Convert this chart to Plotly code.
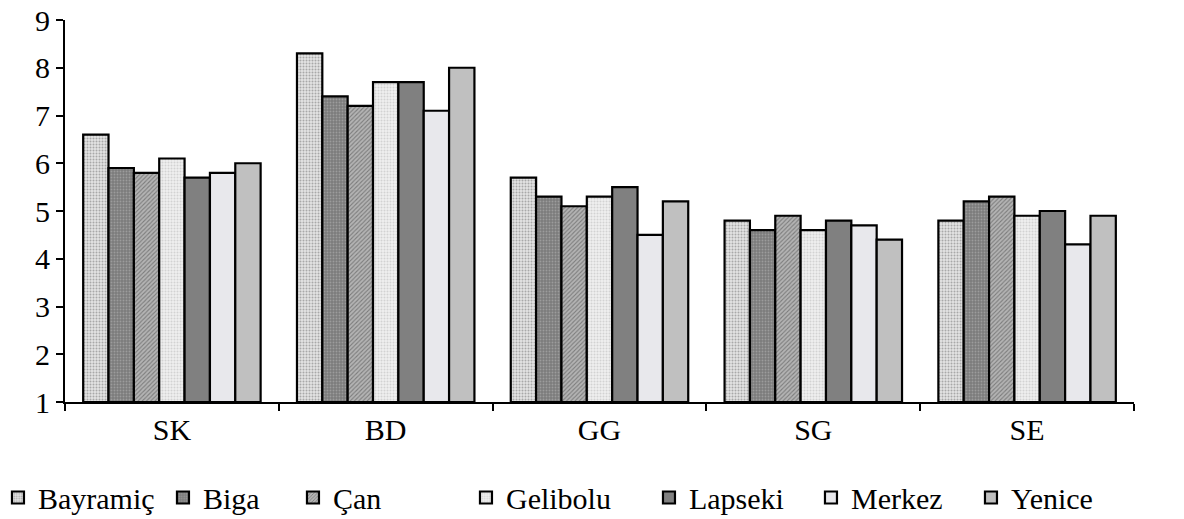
import plotly.graph_objects as go

categories = ["SK", "BD", "GG", "SG", "SE"]
series_names = ["Bayramiç", "Biga", "Çan", "Gelibolu", "Lapseki", "Merkez", "Yenice"]
bayramic = [6.6, 8.3, 5.7, 4.8, 4.8]
biga = [5.9, 7.4, 5.3, 4.6, 5.2]
can = [5.8, 7.2, 5.1, 4.9, 5.3]
gelibolu = [6.1, 7.7, 5.3, 4.6, 4.9]
lapseki = [5.7, 7.7, 5.5, 4.8, 5.0]
merkez = [5.8, 7.1, 4.5, 4.7, 4.3]
yenice = [6.0, 8.0, 5.2, 4.4, 4.9]
values = [bayramic, biga, can, gelibolu, lapseki, merkez, yenice]

styles = [
    dict(bg="#e4e4e4", fg="#a8a8a8", shape=".", size=3, sol=0.35, lw=120),
    dict(bg="#7c7c7c", fg="#9c9c9c", shape=".", size=3, sol=0.3, lw=85),
    dict(bg="#b4b4b4", fg="#7c7c7c", shape="/", size=3, sol=0.35, lw=128),
    dict(bg="#f0f0f0", fg="#d2d2d2", shape=".", size=3, sol=0.35, lw=138),
    dict(bg="#808080", fg="#808080", shape="", size=3, sol=0.3, lw=117),
    dict(bg="#e8e8ec", fg="#e8e8ec", shape="", size=3, sol=0.3, lw=115),
    dict(bg="#c0c0c0", fg="#c0c0c0", shape="", size=3, sol=0.3, lw=100),
]

FONT = "Liberation Serif"

fig = go.Figure()
for name, vals, st in zip(series_names, values, styles):
    fig.add_trace(go.Bar(
        name=name, x=categories, y=[v - 1 for v in vals], base=1,
        legendwidth=st["lw"],
        marker=dict(
            color=st["bg"],
            line=dict(color="black", width=2.2),
            pattern=dict(shape=st["shape"], bgcolor=st["bg"], fgcolor=st["fg"],
                         size=st["size"], solidity=st["sol"], fillmode="replace"),
        ),
    ))

fig.update_layout(
    width=1184, height=519,
    margin=dict(l=65, r=50, t=20, b=117, autoexpand=False),
    paper_bgcolor="white", plot_bgcolor="white",
    barmode="group", bargap=0.17, bargroupgap=0,
    font=dict(family=FONT, size=30, color="black"),
    showlegend=True,
    legend=dict(orientation="h", x=-0.0627, xanchor="left", y=-0.25, yanchor="middle",
                font=dict(family=FONT, size=30, color="black"),
                itemwidth=30, tracegroupgap=0, traceorder="normal"),
    xaxis=dict(showline=True, linecolor="black", linewidth=2, ticks="outside",
               tickson="boundaries", ticklen=7, tickwidth=2, tickcolor="black",
               showgrid=False, automargin=False, tickfont=dict(family=FONT, size=30)),
    yaxis=dict(range=[1, 9], dtick=1, tick0=1, showline=True, linecolor="black", linewidth=2,
               ticks="outside", ticklen=7, tickwidth=2, tickcolor="black",
               showgrid=False, zeroline=False, automargin=False,
               tickfont=dict(family=FONT, size=30)),
)

fig.write_html("out.html")
